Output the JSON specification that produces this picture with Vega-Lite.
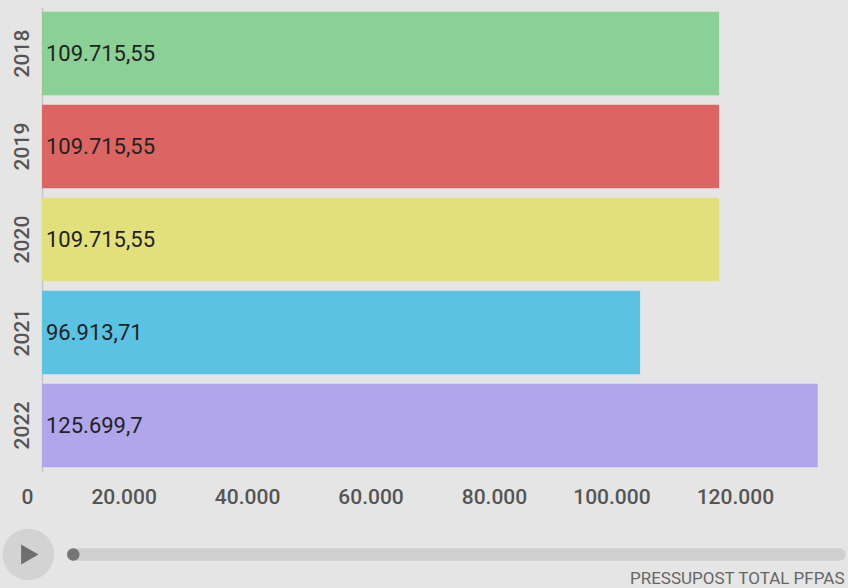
{
  "$schema": "https://vega.github.io/schema/vega-lite/v6.json",
  "width": 806,
  "height": 505,
  "autosize": {"type": "none"},
  "padding": {"left": 42, "top": 3, "right": 0, "bottom": 80},
  "background": "#e5e5e5",
  "config": {
    "view": {"stroke": null},
    "font": "Roboto",
    "locale": {"number": {"decimal": ",", "thousands": ".", "grouping": [3], "currency": ["", "€"]}}
  },
  "data": {
    "values": [
      {"year": 2018, "pressupost": 109715.55},
      {"year": 2019, "pressupost": 109715.55},
      {"year": 2020, "pressupost": 109715.55},
      {"year": 2021, "pressupost": 96913.71},
      {"year": 2022, "pressupost": 125699.7}
    ]
  },
  "layer": [
    {
      "encoding": {
        "y": {
          "field": "year",
          "type": "ordinal",
          "scale": {"range": [4, 469], "paddingInner": 0.1, "paddingOuter": 0.05},
          "axis": {
            "title": null,
            "orient": "left",
            "domainColor": "#c6c6c6",
            "domainWidth": 1.5,
            "ticks": false,
            "labelAngle": -90,
            "labelFontSize": 21,
            "labelFontWeight": 500,
            "labelColor": "#555555",
            "labelPadding": 10
          }
        }
      },
      "layer": [
        {
          "mark": {"type": "bar"},
          "encoding": {
            "x": {
              "field": "pressupost",
              "type": "quantitative",
              "scale": {"domain": [0, 130600], "nice": false},
              "axis": {
                "title": "PRESSUPOST TOTAL PFPAS",
                "orient": "bottom",
                "offset": -5,
                "domain": false,
                "ticks": false,
                "tickSize": 0,
                "grid": false,
                "values": [0, 20000, 40000, 60000, 80000, 100000, 120000],
                "format": ",d",
                "labelAlign": "right",
                "labelBaseline": "alphabetic",
                "labelPadding": 0,
                "labelOffset": -9,
                "labelFontSize": 21,
                "labelFontWeight": 500,
                "labelColor": "#555555",
                "titleFontSize": 17,
                "titleFontWeight": "normal",
                "titleColor": "#666666",
                "titleAlign": "right",
                "titleBaseline": "alphabetic",
                "titleX": 802,
                "titleY": 80
              }
            },
            "color": {
              "field": "year",
              "type": "nominal",
              "scale": {"range": ["#8bd095", "#dc6564", "#e2e07a", "#5cc2e3", "#b1a6ec"]},
              "legend": null
            }
          }
        },
        {
          "mark": {"type": "text", "align": "left", "baseline": "middle", "dx": 4, "fontSize": 22, "color": "#222222"},
          "encoding": {
            "x": {"datum": 0, "type": "quantitative"},
            "text": {"field": "pressupost", "type": "quantitative", "format": ",~f"}
          }
        }
      ]
    },
    {
      "encoding": {
        "x": {
          "field": "year",
          "type": "quantitative",
          "scale": {"domain": [2018, 2022], "range": [31.3, 797.5], "nice": false, "zero": false},
          "axis": null
        },
        "y": {"value": "height"}
      },
      "layer": [
        {
          "mark": {"type": "rule", "color": "#cfcfcf", "strokeWidth": 12.5, "strokeCap": "round", "yOffset": 46.5},
          "encoding": {
            "x": {"aggregate": "min", "field": "year", "type": "quantitative"},
            "x2": {"aggregate": "max", "field": "year"}
          }
        },
        {
          "transform": [{"filter": "datum.year == 2018"}],
          "layer": [
            {
              "mark": {"type": "point", "shape": "circle", "filled": true, "opacity": 1, "color": "#d3d3d3", "size": 2660, "xOffset": -45, "yOffset": 46.5}
            },
            {
              "mark": {"type": "point", "shape": "triangle-right", "filled": true, "opacity": 1, "color": "#6e6e6e", "size": 400, "xOffset": -43.5, "yOffset": 46.5}
            },
            {
              "mark": {"type": "point", "shape": "circle", "filled": true, "opacity": 1, "color": "#757575", "size": 156, "yOffset": 46.5}
            }
          ]
        }
      ]
    }
  ],
  "resolve": {"scale": {"x": "independent", "color": "independent"}}
}
